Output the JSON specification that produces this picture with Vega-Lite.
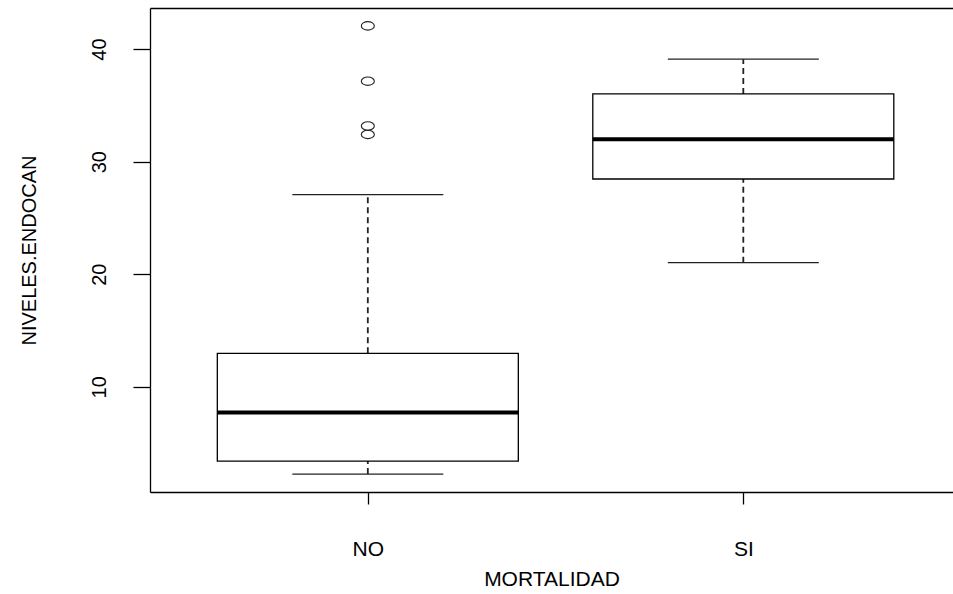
{
  "$schema": "https://vega.github.io/schema/vega-lite/v6.json",
  "width": 803,
  "height": 484,
  "autosize": "none",
  "padding": {"left": 150, "top": 8, "right": 0, "bottom": 102},
  "background": "white",
  "config": {
    "view": {"stroke": null},
    "font": "Liberation Sans",
    "axis": {"grid": false, "labelColor": "black", "titleColor": "black", "titleFontWeight": "normal", "labelFont": "Liberation Sans", "titleFont": "Liberation Sans"}
  },
  "datasets": {
    "cajas": [
      {"MORTALIDAD": "NO", "min": 2.24, "q1": 3.40, "median": 7.72, "q3": 12.97, "max": 27.07},
      {"MORTALIDAD": "SI", "min": 21.02, "q1": 28.46, "median": 31.99, "q3": 36.02, "max": 39.10}
    ],
    "atipicos": [
      {"MORTALIDAD": "NO", "valor": 42.06},
      {"MORTALIDAD": "NO", "valor": 37.15},
      {"MORTALIDAD": "NO", "valor": 33.17},
      {"MORTALIDAD": "NO", "valor": 32.42}
    ]
  },
  "layer": [
    {
      "data": {"name": "cajas"},
      "mark": {"type": "rule", "color": "#222", "strokeWidth": 1.8, "strokeDash": [6, 4]},
      "encoding": {
        "x": {"field": "MORTALIDAD", "type": "nominal",
          "scale": {"type": "point", "domain": ["NO", "SI"], "padding": 0.5693, "align": 0.5095},
          "axis": {"orient": "bottom", "domain": true, "domainColor": "black", "domainWidth": 1.3,
            "ticks": true, "tickColor": "black", "tickSize": 12, "tickWidth": 1.3,
            "labelAngle": 0, "labelFontSize": 21, "labelPadding": 34, "labelBaseline": "top",
            "title": "MORTALIDAD", "titleFontSize": 21, "titlePadding": 9}},
        "y": {"field": "min", "type": "quantitative",
          "scale": {"domain": [0.65, 43.65], "nice": false, "zero": false},
          "axis": {"orient": "left", "values": [10, 20, 30, 40], "domain": true, "domainColor": "black", "domainWidth": 1.3,
            "tickColor": "black", "tickSize": 17, "tickWidth": 1.3,
            "labelAngle": 270, "labelAlign": "center", "labelBaseline": "alphabetic", "labelFontSize": 20, "labelPadding": 28,
            "title": "NIVELES.ENDOCAN", "titleFontSize": 20, "titleAngle": 270, "titleBaseline": "alphabetic", "titlePadding": 54}},
        "y2": {"field": "q1"}
      }
    },
    {
      "data": {"name": "cajas"},
      "mark": {"type": "rule", "color": "#222", "strokeWidth": 1.8, "strokeDash": [6, 4]},
      "encoding": {
        "x": {"field": "MORTALIDAD", "type": "nominal",
          "axis": {"orient": "top", "labels": false, "ticks": false, "title": null, "domain": true, "domainColor": "black", "domainWidth": 1.3}},
        "y": {"field": "q3", "type": "quantitative"},
        "y2": {"field": "max"}
      }
    },
    {
      "data": {"name": "cajas"},
      "mark": {"type": "tick", "orient": "horizontal", "size": 151, "thickness": 1.3, "color": "#222", "opacity": 1},
      "encoding": {
        "x": {"field": "MORTALIDAD", "type": "nominal", "axis": null},
        "y": {"field": "min", "type": "quantitative"}
      }
    },
    {
      "data": {"name": "cajas"},
      "mark": {"type": "tick", "orient": "horizontal", "size": 151, "thickness": 1.3, "color": "#222", "opacity": 1},
      "encoding": {
        "x": {"field": "MORTALIDAD", "type": "nominal", "axis": null},
        "y": {"field": "max", "type": "quantitative"}
      }
    },
    {
      "data": {"name": "cajas"},
      "mark": {"type": "bar", "size": 301, "fill": "white", "stroke": "black", "strokeWidth": 1.3, "opacity": 1},
      "encoding": {
        "x": {"field": "MORTALIDAD", "type": "nominal", "axis": null},
        "y": {"field": "q1", "type": "quantitative"},
        "y2": {"field": "q3"}
      }
    },
    {
      "data": {"name": "cajas"},
      "mark": {"type": "tick", "orient": "horizontal", "size": 301, "thickness": 4, "color": "black", "opacity": 1},
      "encoding": {
        "x": {"field": "MORTALIDAD", "type": "nominal", "axis": null},
        "y": {"field": "median", "type": "quantitative"}
      }
    },
    {
      "data": {"name": "atipicos"},
      "mark": {"type": "point", "shape": "M-1,0C-1,-0.359 -0.5523,-0.65 0,-0.65C0.5523,-0.65 1,-0.359 1,0C1,0.359 0.5523,0.65 0,0.65C-0.5523,0.65 -1,0.359 -1,0Z", "size": 169, "filled": false, "stroke": "#222", "strokeWidth": 1.1, "opacity": 1},
      "encoding": {
        "x": {"field": "MORTALIDAD", "type": "nominal", "axis": null},
        "y": {"field": "valor", "type": "quantitative"}
      }
    }
  ]
}
